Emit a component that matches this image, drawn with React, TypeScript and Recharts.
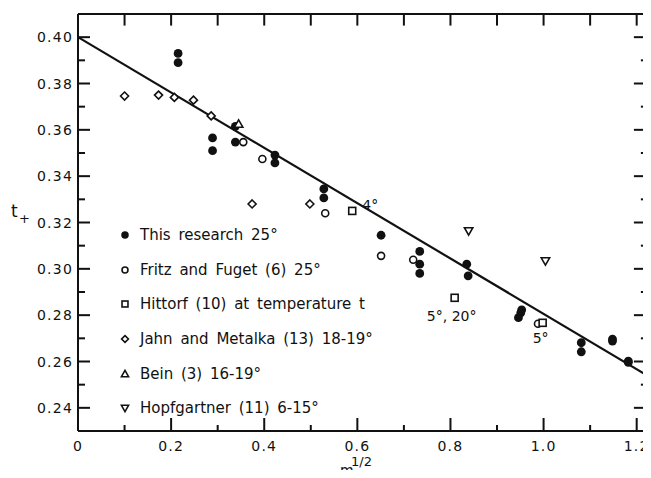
import { ScatterChart, Scatter, XAxis, YAxis, ReferenceLine, Legend } from 'recharts';

// t+ vs m^1/2
const thisResearch = [
  { x: 0.215, y: 0.393 }, { x: 0.215, y: 0.389 },
  { x: 0.289, y: 0.3565 }, { x: 0.289, y: 0.351 },
  { x: 0.338, y: 0.3615 }, { x: 0.338, y: 0.3547 },
  { x: 0.423, y: 0.3491 }, { x: 0.423, y: 0.3457 },
  { x: 0.528, y: 0.3345 }, { x: 0.528, y: 0.3306 },
  { x: 0.651, y: 0.3145 },
  { x: 0.734, y: 0.3075 }, { x: 0.734, y: 0.302 }, { x: 0.734, y: 0.298 },
  { x: 0.835, y: 0.302 }, { x: 0.838, y: 0.297 },
  { x: 0.953, y: 0.2823 }, { x: 0.951, y: 0.281 }, { x: 0.946, y: 0.2789 },
  { x: 1.081, y: 0.2681 }, { x: 1.081, y: 0.2642 },
  { x: 1.148, y: 0.2697 }, { x: 1.148, y: 0.2688 },
  { x: 1.182, y: 0.2602 }, { x: 1.182, y: 0.2596 },
];
const fritzFuget = [
  { x: 0.355, y: 0.3547 }, { x: 0.396, y: 0.3474 }, { x: 0.531, y: 0.324 },
  { x: 0.651, y: 0.3056 }, { x: 0.72, y: 0.3039 }, { x: 0.988, y: 0.2763 },
];
const hittorf = [
  { x: 0.589, y: 0.325, note: '4°' },
  { x: 0.809, y: 0.2875, note: '5°, 20°' },
  { x: 0.998, y: 0.2767, note: '5°' },
];
const jahnMetalka = [
  { x: 0.1, y: 0.3746 }, { x: 0.173, y: 0.375 }, { x: 0.207, y: 0.374 },
  { x: 0.248, y: 0.3728 }, { x: 0.286, y: 0.366 }, { x: 0.374, y: 0.328 },
  { x: 0.498, y: 0.328 },
];
const bein = [{ x: 0.345, y: 0.3625 }];
const hopfgartner = [{ x: 0.839, y: 0.3164 }, { x: 1.004, y: 0.3034 }];

const fitLine = [{ x: 0, y: 0.4 }, { x: 1.22, y: 0.2543 }];

const X_DOMAIN = [0, 1.22];
const Y_DOMAIN = [0.23, 0.41];
const xTicks = [0, 0.1, 0.2, 0.3, 0.4, 0.5, 0.6, 0.7, 0.8, 0.9, 1.0, 1.1, 1.2];
const xLabels = ['0', '', '0.2', '', '0.4', '', '0.6', '', '0.8', '', '1.0', '', '1.2'];
const yTicks = [0.24, 0.25, 0.26, 0.27, 0.28, 0.29, 0.3, 0.31, 0.32, 0.33, 0.34, 0.35, 0.36, 0.37, 0.38, 0.39, 0.4];
const yLabels = ['0.24', '', '0.26', '', '0.28', '', '0.30', '', '0.32', '', '0.34', '', '0.36', '', '0.38', '', '0.40'];

const series = [
  { name: 'This research 25°', kind: 'dot', data: thisResearch },
  { name: 'Fritz and Fuget (6) 25°', kind: 'circle', data: fritzFuget },
  { name: 'Hittorf (10) at temperature t', kind: 'square', data: hittorf },
  { name: 'Jahn and Metalka (13) 18-19°', kind: 'diamond', data: jahnMetalka },
  { name: 'Bein (3) 16-19°', kind: 'up', data: bein },
  { name: 'Hopfgartner (11) 6-15°', kind: 'down', data: hopfgartner },
];

const FONT = '"DejaVu Sans", sans-serif';
const INK = '#111';
const W = 651;
const H = 478;
const X_AXIS_H = 47;
const M = { top: 13, right: 4, bottom: 0, left: 0 };
// inward tick length on the top and right frame, in axis units
const TOP_TICK = 0.005;
const RIGHT_TICK_MAJOR = 0.026;
const RIGHT_TICK_MINOR = 0.011;

const noteOffsets: Record<string, { dx: number; dy: number; anchor: 'start' | 'middle' }> = {
  '4°': { dx: 10, dy: -1, anchor: 'start' },
  '5°, 20°': { dx: -3, dy: 23, anchor: 'middle' },
  '5°': { dx: -2, dy: 20, anchor: 'middle' },
};

function Marker({ cx, cy, kind, s = 1 }: { cx: number; cy: number; kind: string; s?: number }) {
  const sw = 1.6;
  if (kind === 'dot') return <circle cx={cx} cy={cy} r={4.4 * s} fill={INK} />;
  if (kind === 'circle') return <circle cx={cx} cy={cy} r={3.5 * s} fill="#fff" stroke={INK} strokeWidth={sw} />;
  if (kind === 'square') {
    const h = 3.5 * s;
    return <rect x={cx - h} y={cy - h} width={2 * h} height={2 * h} fill="#fff" stroke={INK} strokeWidth={sw} />;
  }
  if (kind === 'diamond') {
    const h = 4 * s;
    return <polygon points={`${cx},${cy - h} ${cx + h},${cy} ${cx},${cy + h} ${cx - h},${cy}`} fill="#fff" stroke={INK} strokeWidth={sw} />;
  }
  const h = 4.2 * s;
  const d = kind === 'up' ? 1 : -1;
  return (
    <polygon
      points={`${cx},${cy - d * h} ${cx + h},${cy + d * h * 0.75} ${cx - h},${cy + d * h * 0.75}`}
      fill="#fff" stroke={INK} strokeWidth={sw}
    />
  );
}

// tick marks as thin filled rects, pointing into the frame
const BottomTick = ({ x, y, payload }: any) => {
  const label = xLabels[xTicks.indexOf(payload.value)];
  const len = label ? 13 : 6;
  return (
    <g>
      <rect x={x - 1} y={y - len} width={2} height={len} fill={INK} />
      {label ? (
        <text x={x} y={y + 20} textAnchor="middle" fontFamily={FONT} fontSize={14} letterSpacing={1.2} fill={INK}>
          {label}
        </text>
      ) : null}
    </g>
  );
};

const LeftTick = ({ x, y, payload }: any) => {
  const label = yLabels[yTicks.indexOf(payload.value)];
  return (
    <g>
      <rect x={x} y={y - 1} width={label ? 12 : 7} height={2} fill={INK} />
      {label ? (
        <text x={x - 5} y={y + 5} textAnchor="end" fontFamily={FONT} fontSize={14} letterSpacing={1.2} fill={INK}>
          {label}
        </text>
      ) : null}
    </g>
  );
};

// drawn from the series list so the order stays as in the figure
const LegendBox = () => (
  <div style={{ fontFamily: FONT, fontSize: 15, color: INK, wordSpacing: 3 }}>
    {series.map(s => (
      <div key={s.name} style={{ height: 34.6, display: 'flex', alignItems: 'center', whiteSpace: 'nowrap' }}>
        <svg width={16} height={14} style={{ marginRight: 6 }}>
          <Marker cx={7} cy={7} kind={s.kind} s={0.85} />
        </svg>
        <span>{s.name}</span>
      </div>
    ))}
  </div>
);

export default function App() {
  return (
    <div style={{ margin: -8, background: '#fff', width: W, height: H }}>
      <ScatterChart width={W} height={H} margin={M}>
        <XAxis
          type="number" dataKey="x" domain={X_DOMAIN} ticks={xTicks} interval={0}
          height={X_AXIS_H} tickSize={0} tickMargin={0} tickLine={false}
          axisLine={{ stroke: INK, strokeWidth: 2 }} tick={(p: any) => <BottomTick {...p} />}
          label={({ viewBox }: any) => (
            <g fontFamily={FONT} fill={INK}>
              <text x={viewBox.x + 273} y={viewBox.y + 35} fontSize={13}>1/2</text>
              <text x={viewBox.x + 262} y={viewBox.y + 44} fontSize={14}>m</text>
            </g>
          )}
        />
        <XAxis
          xAxisId="top" orientation="top" type="number" domain={X_DOMAIN} ticks={xTicks}
          height={1} tick={false} tickLine={false} axisLine={{ stroke: INK, strokeWidth: 2 }}
        />
        <YAxis
          type="number" dataKey="y" domain={Y_DOMAIN} ticks={yTicks} interval={0}
          width={78} tickSize={0} tickMargin={0} tickLine={false}
          axisLine={{ stroke: INK, strokeWidth: 2 }} tick={(p: any) => <LeftTick {...p} />}
          label={({ viewBox }: any) => (
            <g fontFamily={FONT} fill={INK}>
              <text x={viewBox.x + 11} y={viewBox.y + 203} fontSize={17}>t</text>
              <text x={viewBox.x + 19} y={viewBox.y + 209} fontSize={13}>+</text>
            </g>
          )}
        />
        <YAxis
          yAxisId="right" orientation="right" type="number" domain={Y_DOMAIN} ticks={yTicks}
          width={1} tick={false} tickLine={false} axisLine={{ stroke: INK, strokeWidth: 2 }}
        />
        {xTicks.map(v => (
          <ReferenceLine
            key={`tt${v}`}
            segment={[{ x: v, y: Y_DOMAIN[1] }, { x: v, y: Y_DOMAIN[1] - TOP_TICK }]}
            stroke={INK} strokeWidth={2} ifOverflow="visible"
          />
        ))}
        {yTicks.map((v, i) => (
          <ReferenceLine
            key={`rt${v}`}
            segment={[
              { x: X_DOMAIN[1], y: v },
              { x: X_DOMAIN[1] - (yLabels[i] ? RIGHT_TICK_MAJOR : RIGHT_TICK_MINOR), y: v },
            ]}
            stroke={INK} strokeWidth={2} ifOverflow="visible"
          />
        ))}
        <ReferenceLine x={X_DOMAIN[1]} stroke={INK} strokeWidth={2} ifOverflow="visible" />
        <ReferenceLine segment={fitLine} stroke={INK} strokeWidth={2.2} ifOverflow="visible" />
        {series.map(s => (
          <Scatter
            key={s.name}
            name={s.name}
            data={s.data}
            isAnimationActive={false}
            shape={(p: any) => {
              const note = p.payload && p.payload.note;
              const o = note ? noteOffsets[note] : null;
              return (
                <g>
                  <Marker cx={p.cx} cy={p.cy} kind={s.kind} />
                  {o ? (
                    <text x={p.cx + o.dx} y={p.cy + o.dy} textAnchor={o.anchor} fontFamily={FONT} fontSize={14} fill={INK}>
                      {note}
                    </text>
                  ) : null}
                </g>
              );
            }}
          />
        ))}
        <Legend
          layout="vertical" align="center" verticalAlign="middle"
          wrapperStyle={{ left: 118, top: 218, width: 320 }}
          content={() => <LegendBox />}
        />
      </ScatterChart>
    </div>
  );
}
